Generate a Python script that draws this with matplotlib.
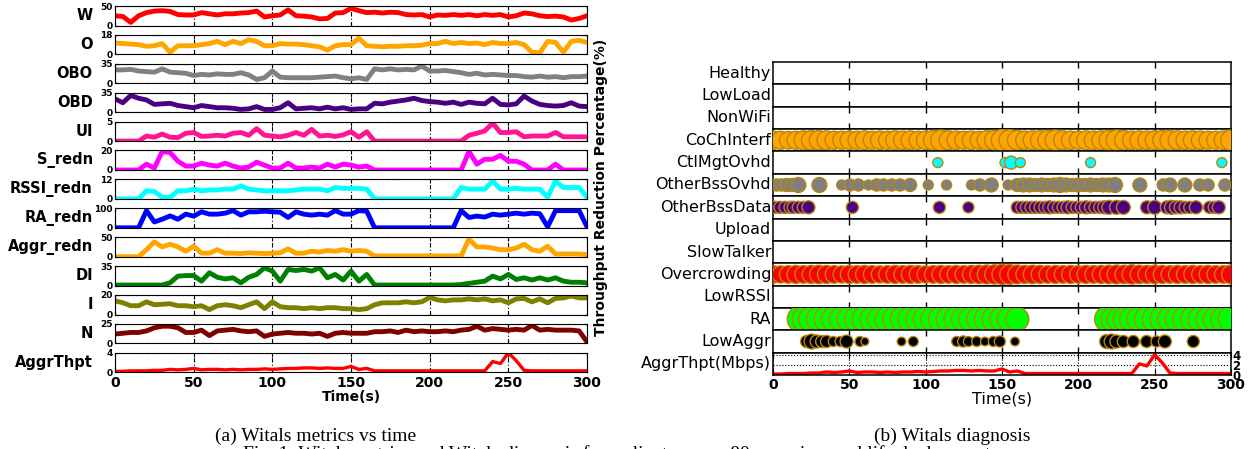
import numpy as np
import matplotlib.pyplot as plt

# time axis of the metric series (s)
T = np.arange(0, 301, 5)

# left panel: metric values
w_vals = [25, 23, 8, 25, 33, 37, 38, 36, 28, 27, 27, 33, 30, 27, 30, 30, 32, 33, 37, 22,
          25, 27, 40, 25, 24, 22, 17, 18, 32, 33, 44, 38, 33, 34, 32, 34, 33, 28, 27, 28,
          22, 27, 26, 28, 26, 28, 25, 28, 26, 28, 22, 25, 32, 30, 25, 23, 24, 22, 14, 18, 25]
o_vals = [10.5, 10, 9.5, 9, 7.5, 8, 10, 2, 8, 8, 8, 9, 10, 12, 9, 12, 10, 13.5, 12, 8,
          8, 10, 9.5, 9.5, 9, 8, 7, 4, 8, 9, 9, 15, 8, 7.5, 7, 7.5, 7.5, 8, 8, 8.5,
          10, 10, 12, 10, 11, 10, 10.5, 9, 11, 10, 10, 11, 9, 2, 1.5, 12, 11, 2, 12, 13, 11]
obo_vals = [24, 24, 25, 22, 21, 20, 26, 20, 19, 18, 14, 16, 15, 17, 16, 16, 19, 15, 7, 10,
            22, 11, 10, 10, 10, 10, 11, 12, 13, 10, 8, 10, 7, 26, 24, 26, 24, 25, 24, 31,
            22, 22, 23, 21, 19, 16, 18, 15, 16, 15, 14, 14, 12, 11, 13, 11, 12, 10, 12, 12, 13]
obd_vals = [24, 17, 30, 25, 22, 14, 15, 16, 12, 10, 8, 12, 10, 8, 8, 7, 5, 6, 10, 5,
            5, 8, 17, 6, 7, 8, 6, 9, 6, 8, 5, 6, 6, 16, 15, 18, 20, 22, 25, 21,
            19, 18, 16, 18, 14, 18, 16, 15, 25, 14, 13, 15, 29, 20, 14, 12, 11, 12, 17, 11, 10]
ui_vals = [0, 0, 0, 0, 1.3, 1.0, 1.8, 1.0, 0.9, 2.0, 2.2, 1.2, 1.3, 1.5, 1.3, 2.0, 2.2, 1.5, 3.2, 1.5,
           1.3, 1.1, 1.5, 2.2, 1.5, 3.0, 1.3, 1.5, 1.2, 1.6, 2.4, 1.0, 2.4, 0, 0, 0, 0, 0, 0, 0,
           0, 0, 0, 0, 0, 1.5, 2.0, 2.6, 4.6, 2.2, 2.2, 2.4, 1.1, 1.3, 1.3, 1.3, 2.2, 1.1, 1.1, 1.1, 1.1]
s_redn = [0, 0, 0, 0, 6, 2, 19, 18, 9, 4, 4, 7, 5, 4, 7, 4, 2, 3, 8, 5,
          2, 2, 7, 2, 2, 3, 2, 6, 3, 6, 5, 3, 4, 0, 0, 0, 0, 0, 0, 0,
          0, 0, 0, 0, 0, 19, 6, 11, 11, 15, 9, 9, 6, 0, 0, 0, 6, 0, 0, 0, 0]
rssi_redn = [0, 0, 0, 0, 5, 4.5, 1, 1, 5, 5, 6, 5, 5.5, 5.5, 6, 6, 8, 6, 5.5, 5,
             5, 5, 5, 5.5, 6, 6, 6, 5, 7, 6.5, 6.5, 6.5, 6, 0, 0, 0, 0, 0, 0, 0,
             0, 0, 0, 0, 7, 6, 6, 6, 11, 6, 6, 6.5, 6, 6, 6, 1, 11, 7, 7, 7, 1]
ra_redn = [0, 0, 0, 0, 88, 30, 44, 61, 44, 70, 60, 82, 70, 70, 75, 88, 65, 82, 82, 85,
           82, 80, 53, 82, 70, 65, 70, 65, 88, 70, 70, 88, 85, 0, 0, 0, 0, 0, 0, 0,
           0, 0, 0, 0, 88, 53, 60, 55, 70, 65, 70, 75, 70, 75, 72, 5, 88, 88, 88, 88, 5]
aggr_redn = [0, 0, 0, 0, 18, 38, 25, 32, 25, 14, 27, 9, 9, 18, 9, 9, 8, 10, 9, 8,
             9, 10, 20, 9, 9, 14, 12, 16, 14, 18, 14, 16, 14, 2, 2, 2, 2, 2, 2, 2,
             2, 2, 2, 2, 2, 45, 25, 25, 22, 18, 18, 22, 32, 18, 14, 27, 7, 7, 7, 7, 5]
di_vals = [1, 1, 1, 1, 1, 1, 1, 5, 17, 18, 18, 8, 23, 15, 12, 14, 5, 15, 20, 32,
           26, 8, 29, 27, 29, 26, 32, 14, 20, 10, 26, 8, 20, 1, 1, 1, 1, 1, 1, 1,
           1, 1, 1, 1, 2, 4, 6, 8, 17, 12, 20, 11, 14, 10, 14, 10, 14, 8, 6, 6, 5]
i_vals = [14, 12, 9, 9, 13, 10, 10.5, 11, 9, 9, 8, 9, 5, 9, 10, 9, 7, 10, 13, 6,
          13, 8, 7, 7, 6, 7, 6, 7, 7, 6, 6, 5, 6, 10, 12, 12, 12, 13, 12, 13,
          17.5, 15, 14, 15, 15, 16, 15, 16, 14, 15, 12, 16, 16.5, 13, 16, 12, 16.5, 17, 19, 17, 17]
n_vals = [12, 13, 14, 14, 16, 20, 22, 22, 20, 14, 14, 17, 10, 16, 17, 18, 16, 15, 16, 9,
          12, 13, 14, 13, 13, 12, 13, 9, 13, 14, 13, 13, 13, 15, 15, 16, 14, 17, 15, 16,
          15, 15, 16, 15, 17, 18, 22, 17, 19, 18, 17, 18, 17, 23, 17, 18, 17, 17, 17, 16, 2]
aggr_thpt = [0.2, 0.2, 0.3, 0.3, 0.3, 0.4, 0.4, 0.6, 0.5, 0.6, 0.8, 0.5, 0.6, 0.6, 0.5, 0.6, 0.5, 0.6, 0.6, 0.7,
             0.6, 0.7, 0.8, 0.8, 0.9, 0.9, 0.8, 0.9, 0.8, 0.8, 1.2, 0.6, 0.8, 0.3, 0.3, 0.3, 0.3, 0.3, 0.3, 0.3,
             0.3, 0.3, 0.3, 0.3, 0.3, 0.3, 0.3, 0.3, 2.2, 1.8, 4.0, 2.4, 0.4, 0.3, 0.3, 0.3, 0.3, 0.3, 0.3, 0.3, 0.3]

left_names = ["W", "O", "OBO", "OBD", "UI", "S_redn", "RSSI_redn", "RA_redn",
              "Aggr_redn", "DI", "I", "N", "AggrThpt"]
left_tops = [50, 18, 35, 35, 5, 20, 12, 100, 50, 35, 20, 25, 4]

# right panel: diagnosis events (time, severity in %)
coch_sev = [44, 42, 40, 42, 46, 48, 48, 46, 42, 42, 44, 42, 46, 42, 44, 42, 46, 44, 46, 42,
            44, 50, 55, 46, 44, 42, 44, 42, 48, 50, 60, 58, 50, 44, 46, 48, 50, 55, 46, 44,
            42, 46, 44, 46, 50, 55, 48, 44, 46, 44, 46, 48, 50, 46, 44, 46, 44, 42, 42, 44, 55]
crowd_sev = [40, 38, 40, 42, 40, 42, 44, 42, 40, 38, 42, 40, 42, 40, 38, 40, 42, 40, 42, 40,
             38, 40, 42, 40, 42, 40, 42, 44, 46, 48, 52, 50, 46, 42, 44, 42, 40, 42, 40, 42,
             40, 42, 40, 42, 44, 46, 44, 48, 44, 42, 44, 42, 40, 42, 40, 42, 40, 42, 40, 40, 46]
ctl_t = [108, 152, 156, 162, 208, 294]
ctl_sev = [13, 13, 22, 13, 13, 13]
obo_t = [2.4, 5.6, 9, 12.2, 16.6, 30.4, 45, 50.4, 55.9, 62.5, 67.9, 72.3, 77.8, 83.2, 89.8,
         101.7, 113.7, 130, 135.5, 143, 154, 160, 164, 168, 172, 176, 180, 184, 188, 192,
         196, 200, 204, 208, 212, 216, 220, 224, 240.3, 255.6, 260, 269.8, 279.6, 285, 296]
obo_sev = [19, 19, 22, 22, 29, 29, 13, 19, 19, 13, 19, 19, 19, 19, 22,
           13, 13, 13, 19, 25, 13, 22, 25, 25, 22, 25, 22, 25, 29, 25,
           22, 25, 22, 25, 22, 25, 25, 29, 25, 19, 25, 25, 19, 19, 19]
obd_t = [1.3, 4.6, 7.9, 11.2, 13.3, 16.6, 19.9, 23.2, 52, 109, 128, 160, 163, 166, 169,
         172, 175, 178, 181, 184, 187, 190, 193, 196, 199, 202, 205, 208, 211, 214,
         217, 220, 225, 229.5, 245, 250, 258, 261, 264, 267, 270, 273, 277, 286, 289, 292]
obd_sev = [19, 19, 19, 19, 19, 19, 19, 22, 19, 19, 16, 19, 19, 19, 19,
           19, 19, 19, 22, 19, 19, 19, 22, 19, 19, 19, 22, 19, 19, 19,
           22, 25, 25, 25, 22, 25, 22, 25, 22, 22, 19, 19, 22, 19, 19, 22]
ra_t = [18, 21, 25, 30, 35, 40, 45, 50, 55, 60, 65, 70, 75, 80, 85, 90, 95, 100, 105, 110,
        115, 120, 125, 130, 135, 140, 145, 150, 155, 160, 219, 223, 227, 231, 235, 240,
        245, 250, 255, 260, 265, 270, 275, 280, 285, 290, 295, 300]
ra_sev = [90, 85, 80, 78, 80, 82, 80, 78, 80, 82, 80, 78, 80, 82, 80, 80, 78, 80, 82, 80,
          80, 78, 80, 82, 80, 80, 78, 80, 80, 70, 85, 82, 80, 80, 78, 80, 82, 80, 80, 78,
          80, 82, 80, 80, 78, 80, 82, 85]
lowaggr_t = [22, 25.3, 28.6, 31.9, 35.1, 39.5, 43.9, 48.2, 57, 60.2, 84.2, 91.9, 120.3, 124.6,
             128, 133.4, 138.8, 144.3, 148.6, 158.5, 218.5, 221.8, 225, 229.5, 236, 244.7,
             251.2, 256.7, 275.3]
lowaggr_sev = [19, 29, 22, 19, 19, 13, 13, 22, 13, 8, 10, 13, 13, 16, 13, 13, 10, 13, 16, 10,
               25, 29, 22, 19, 19, 19, 16, 22, 19]

right_names = ["Healthy", "LowLoad", "NonWiFi", "CoChInterf", "CtlMgtOvhd", "OtherBssOvhd",
               "OtherBssData", "Upload", "SlowTalker", "Overcrowding", "LowRSSI", "RA", "LowAggr"]

plt.rcParams['font.family'] = ['DejaVu Sans']
fig = plt.figure(figsize=(12.54, 4.49), dpi=100)
FW, FH = 1254.0, 449.0


def add_ax(x0, y0, w, h):
    return fig.add_axes([x0 / FW, 1 - (y0 + h) / FH, w / FW, h / FH])


# ---- (a) metrics vs time
left_series = [w_vals, o_vals, obo_vals, obd_vals, ui_vals, s_redn, rssi_redn, ra_redn,
               aggr_redn, di_vals, i_vals, n_vals, aggr_thpt]
left_colors = ["red", "orange", "gray", "indigo", "deeppink", "magenta", "cyan", "blue",
               "orange", "green", "olive", "maroon", "red"]
for k, name in enumerate(left_names):
    ax = add_ax(115, 6 + 28.9 * k, 472, 19.5)
    lw = 2.4 if name == "AggrThpt" else 3.5
    ax.plot(T, left_series[k], color=left_colors[k], lw=lw)
    top = left_tops[k]
    ax.set_xlim(0, 300)
    ax.set_ylim(0, top)
    ax.set_yticks([0, top])
    ax.set_yticklabels(["0", str(top)], fontsize=6.5, fontweight="bold")
    ax.set_xticks(range(0, 301, 50))
    ax.grid(True, color="black", linestyle=(0, (4, 2, 1, 2)), lw=0.8)
    ax.tick_params(direction="in", length=3, top=True, right=True, pad=1.5)
    ax.set_ylabel(name, rotation=0, ha="right", va="center", fontsize=10.5, fontweight="bold")
    ax.yaxis.set_label_coords(-0.047, 0.5)
    if k == len(left_names) - 1:
        ax.set_xticklabels([str(v) for v in range(0, 301, 50)], fontsize=10, fontweight="bold")
        ax.tick_params(axis="x", pad=3)
        ax.set_xlabel("Time(s)", fontsize=10, fontweight="bold", labelpad=0)
    else:
        ax.tick_params(labelbottom=False)

fig.text(601 / FW, 1 - 187 / FH, "Throughput Reduction Percentage(%)", rotation=90,
         ha="center", va="center", fontsize=10, fontweight="bold")

# ---- (b) diagnosis
edge = "#b8860b"
diag = {
    "CoChInterf": (T, coch_sev, "orange"),
    "CtlMgtOvhd": (ctl_t, ctl_sev, "cyan"),
    "OtherBssOvhd": (obo_t, obo_sev, "gray"),
    "OtherBssData": (obd_t, obd_sev, "indigo"),
    "Overcrowding": (T, crowd_sev, "red"),
    "RA": (ra_t, ra_sev, "lime"),
    "LowAggr": (lowaggr_t, lowaggr_sev, "black"),
}
row_h = 22.36
for k, name in enumerate(right_names):
    ax = add_ax(773, 62 + row_h * k, 458, row_h)
    ax.set_xlim(0, 300)
    ax.set_ylim(-1, 1)
    if name in diag:
        times, sev, col = diag[name]
        ax.scatter(times, np.zeros(len(times)), s=np.array(sev) * 4.0, c=col,
                   edgecolors=edge, linewidths=1.0, zorder=3)
    ax.set_yticks([])
    ax.set_xticks(range(50, 300, 50))
    ax.tick_params(direction="in", top=True, length=4, width=1, labelbottom=False)
    for sp in ax.spines.values():
        sp.set_linewidth(1.1)
    ax.set_ylabel(name, rotation=0, ha="right", va="center", fontsize=11.5)
    ax.yaxis.set_label_coords(-0.004, 0.5)

ax = add_ax(773, 62 + row_h * 13, 458, row_h)
ax.plot(T, aggr_thpt, color="red", lw=2.4)
ax.set_xlim(0, 300)
ax.set_ylim(0, 4.4)
ax.set_yticks([0, 2, 4])
ax.yaxis.tick_right()
ax.set_yticklabels(["0", "2", "4"], fontsize=8.5, fontweight="bold")
ax.set_xticks(range(0, 301, 50))
ax.set_xticklabels([str(v) for v in range(0, 301, 50)], fontsize=10, fontweight="bold")
ax.grid(True, color="black", linestyle=":", lw=0.8)
ax.tick_params(direction="in", top=True, length=4, pad=2)
ax.tick_params(axis="y", length=0, pad=1)
for sp in ax.spines.values():
    sp.set_linewidth(1.1)
ax.set_ylabel("AggrThpt(Mbps)", rotation=0, ha="right", va="center", fontsize=11.5)
ax.yaxis.set_label_coords(-0.004, 0.5)
ax.set_xlabel("Time(s)", fontsize=11.5, labelpad=0)

# captions
serif = ["Liberation Serif", "DejaVu Serif"]
fig.text(316 / FW, 1 - 441 / FH, "(a) Witals metrics vs time", family=serif,
         fontsize=14, ha="center", va="baseline")
fig.text(952 / FW, 1 - 441 / FH, "(b) Witals diagnosis", family=serif,
         fontsize=14, ha="center", va="baseline")
# figure caption, only its top edge falls inside the picture
fig.text(243 / FW, 1 - 459 / FH,
         "Fig. 1: Witals metrics and Witals diagnosis for a client among 80 users in a real life deployment",
         family=serif, fontsize=14, ha="left", va="baseline")

fig.savefig("out.png", dpi=100)
